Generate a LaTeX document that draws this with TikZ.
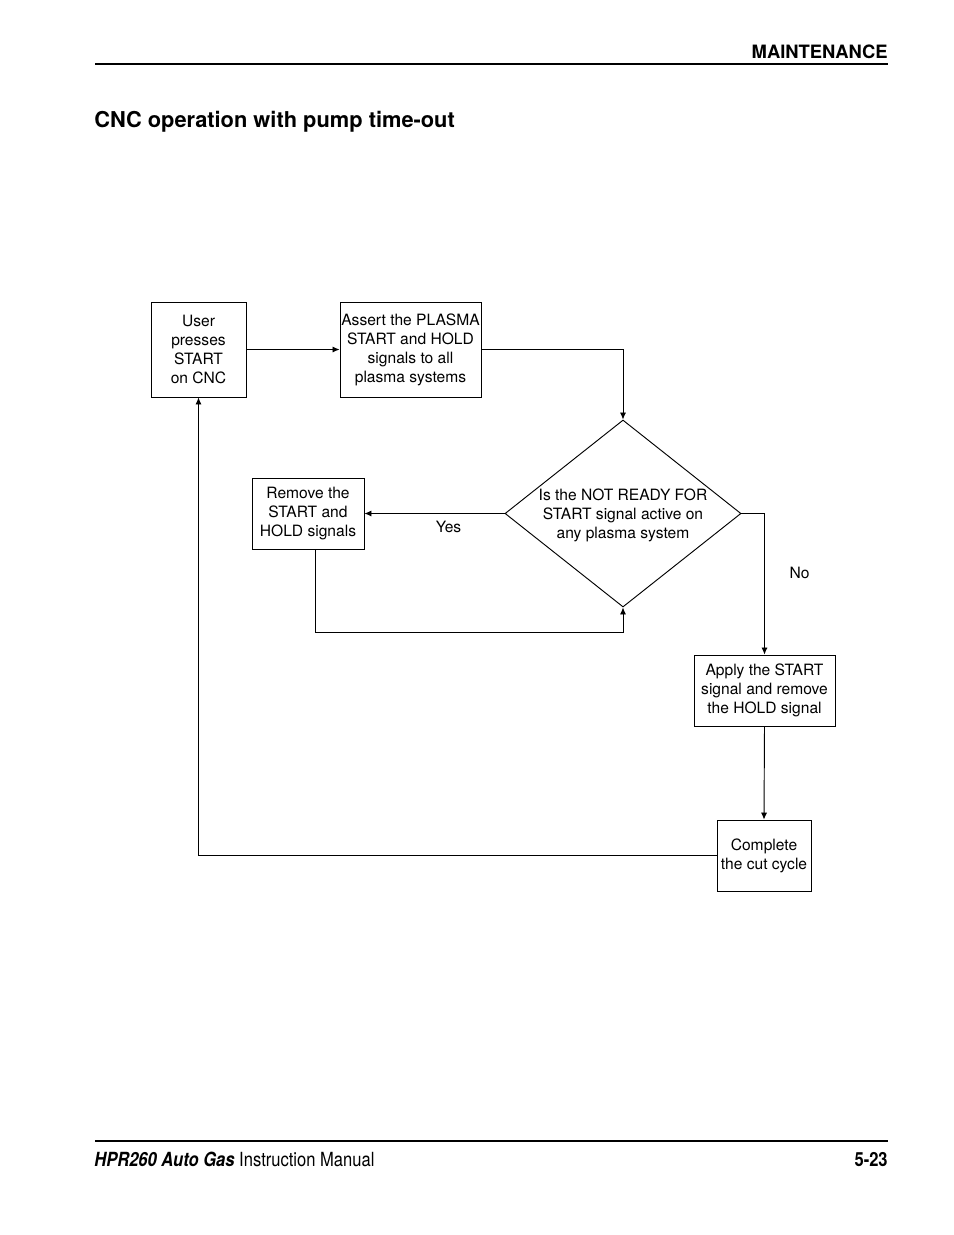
\documentclass[tikz,border=0pt]{standalone}
\usepackage{fontspec}
\setmainfont{TeX Gyre Heros}
\newfontfamily\condfont[FakeStretch=0.85]{TeX Gyre Heros}
\usetikzlibrary{arrows.meta,shapes.geometric}
\tikzset{
	box/.style={draw, line width=0.6pt, inner sep=0pt, align=center, font=\fontsize{10}{12.2}\selectfont},
	arr/.style={line width=0.6pt, -{Latex[length=4.5pt,width=4pt]}},
	lbl/.style={font=\fontsize{10}{12.2}\selectfont}
}
\begin{document}
\begin{tikzpicture}[x=0.6415pt, y=-0.6415pt]
				\useasboundingbox (0,0) rectangle (954,1235);
				%header
				\node[anchor=base east, inner sep=0pt, font=\fontsize{11.8}{14}\selectfont\bfseries] (head) at (888,58) {MAINTENANCE};
				\draw[line width=1.3pt] (95,64) -- (888,64);
				\node[anchor=base west, inner sep=0pt, font=\fontsize{14}{17}\selectfont\bfseries] (title) at (94,127) {CNC operation with pump time-out};
				
				%boxes
				\node[box, minimum width=95*0.6415pt, minimum height=95*0.6415pt] (user) at (198.5,349.5) {User\\presses\\START\\on CNC};
				\node[box, minimum width=141*0.6415pt, minimum height=95*0.6415pt] (assert) at (410.5,349.5) {Assert the PLASMA\\START and HOLD\\signals to all\\plasma systems};
				\node[draw, diamond, line width=0.6pt, inner sep=0pt, minimum width=236*0.6415pt, minimum height=187*0.6415pt,
					label={[lbl, align=center, yshift=-1pt]center:Is the NOT READY FOR\\START signal active on\\any plasma system}] (dec) at (623,513.5) {};
				\node[box, minimum width=112*0.6415pt, minimum height=71*0.6415pt] (remove) at (308,513.5) {Remove the\\START and\\HOLD signals};
				\node[box, minimum width=141*0.6415pt, minimum height=71*0.6415pt] (apply) at (764.5,690.5) {Apply the START\\signal and remove\\the HOLD signal};
				\node[box, minimum width=94*0.6415pt, minimum height=71*0.6415pt] (complete) at (764,855.5) {Complete\\the cut cycle};
				
				%connectors
				\draw[arr] (user.east) -- (assert.west);
				\draw[arr] (assert.east) -| (dec.north);
				\draw[arr] (dec.west) -- (remove.east) node[lbl, pos=0.4, anchor=north, yshift=-1pt] {Yes};
				\draw[arr] ([xshift=5.1pt]remove.south) -- ++(0,83) -| (dec.south);
				\draw[arr] (dec.east) -| (apply.north) node[lbl, pos=0.71, anchor=west, xshift=12.5pt] {No};
				\draw[arr] (apply.south) -- (complete.north);
				\draw[arr] (complete.west) -| (user.south);
				
				%footer
				\draw[line width=1.5pt] (95,1141) -- (888,1141);
				\node[anchor=base west, inner sep=0pt, font=\fontsize{12.5}{15}\selectfont\condfont] (manual) at (94,1166) {\textbf{\textit{HPR260 Auto Gas}} Instruction Manual};
				\node[anchor=base east, inner sep=0pt, font=\fontsize{12.5}{15}\selectfont\condfont\bfseries] (page) at (888,1166) {5-23};
\end{tikzpicture}
\end{document}
